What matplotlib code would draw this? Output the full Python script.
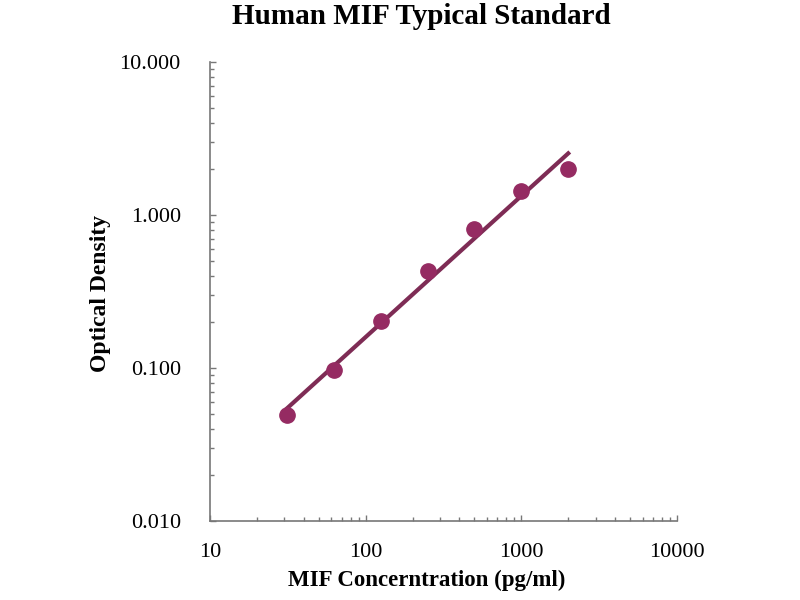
import matplotlib.pyplot as plt
import numpy as np
from matplotlib.ticker import FixedLocator, FixedFormatter, LogLocator, NullFormatter

# Standard curve data
concentration = [31.25, 62.5, 125, 250, 500, 1000, 2000]
optical_density = [0.049, 0.097, 0.203, 0.43, 0.81, 1.44, 2.0]

x_ticks = [10, 100, 1000, 10000]
x_labels = ['10', '100', '1000', '10000']
y_ticks = [0.01, 0.1, 1, 10]
y_labels = ['0.010', '0.100', '1.000', '10.000']

point_color = '#952B62'
line_color = '#7E2C55'

plt.rcParams['font.family'] = ['Liberation Serif', 'DejaVu Serif']

fig = plt.figure(figsize=(8, 6), dpi=100)
ax = fig.add_axes([0.2625, 0.1317, 0.5838, 0.765])

# Power fit in log-log space
xs = np.array(concentration)
ys = np.array(optical_density)
slope, intercept = np.polyfit(np.log10(xs), np.log10(ys), 1)
x_fit = np.array([xs.min(), xs.max()])
y_fit = 10 ** (intercept + slope * np.log10(x_fit))

ax.plot(x_fit, y_fit, '-', color=line_color, linewidth=3, zorder=2)
ax.plot(xs, ys, 'o', color=point_color, markersize=11, zorder=3)

ax.set_xscale('log')
ax.set_yscale('log')
ax.set_xlim(10, 10000)
ax.set_ylim(0.01, 10)

ax.xaxis.set_major_locator(FixedLocator(x_ticks))
ax.xaxis.set_major_formatter(FixedFormatter(x_labels))
ax.yaxis.set_major_locator(FixedLocator(y_ticks))
ax.yaxis.set_major_formatter(FixedFormatter(y_labels))
ax.xaxis.set_minor_locator(LogLocator(base=10, subs=np.arange(2, 10)))
ax.yaxis.set_minor_locator(LogLocator(base=10, subs=np.arange(2, 10)))
ax.xaxis.set_minor_formatter(NullFormatter())
ax.yaxis.set_minor_formatter(NullFormatter())

for side in ['top', 'right']:
    ax.spines[side].set_visible(False)
for side in ['left', 'bottom']:
    ax.spines[side].set_color('#777777')
    ax.spines[side].set_linewidth(1.2)

ax.tick_params(which='major', direction='in', length=4, width=1, color='#777777',
               labelsize=16)
ax.tick_params(which='minor', direction='in', length=3, width=1, color='#777777')
ax.tick_params(axis='x', which='major', pad=16)
ax.tick_params(axis='y', which='major', pad=21)

# title and x label sit a little left of the axes centre in the original
fig.text(0.527, 0.972, 'Human MIF Typical Standard', fontsize=21, fontweight='bold',
         ha='center', va='center')
ax.set_xlabel('MIF Concerntration (pg/ml)', fontsize=16.5, fontweight='bold')
ax.xaxis.set_label_coords(0.465, -0.107)
ax.set_ylabel('Optical Density', fontsize=17, fontweight='bold')
ax.yaxis.set_label_coords(-0.212, 0.495)

fig.savefig('out.png', dpi=100)
